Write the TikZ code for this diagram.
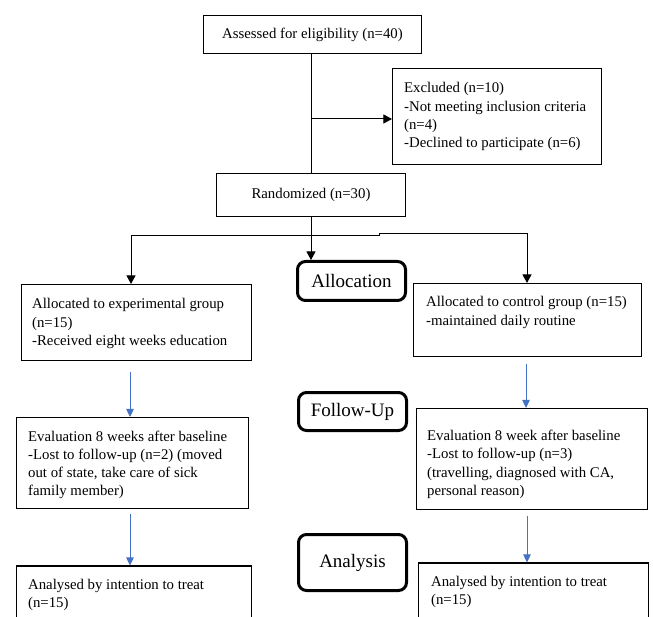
\documentclass[tikz,border=0pt]{standalone}
\usepackage{fontspec}
\setmainfont{Liberation Serif}
\usetikzlibrary{arrows.meta}
\definecolor{arrowblue}{RGB}{68,114,196}
\begin{document}
\begin{tikzpicture}[x=1pt,y=-1pt,
  box/.style={draw, line width=1.1pt, inner sep=0pt},
  txt/.style={inner sep=0pt, anchor=north west, align=left, font=\fontsize{14.8}{18.3}\selectfont},
  ctxt/.style={font=\fontsize{14.8}{18.3}\selectfont},
  stage/.style={draw, line width=3pt, rounded corners=8pt, inner sep=0pt, font=\fontsize{19}{23}\selectfont},
  blk/.style={line width=1pt, -{Triangle[length=8.5pt,width=9pt]}},
  blu/.style={draw=arrowblue, line width=0.9pt, -{Triangle[length=8pt,width=7.5pt]}, arrowblue}
]
\useasboundingbox (0,0) rectangle (653,617);
\clip (0,0) rectangle (653,617);
\fill[white] (0,0) rectangle (653,617);

% boxes
\node[box, ctxt, minimum width=218pt, minimum height=38pt] (assess) at (312.5,34.5) {Assessed for eligibility (n=40)};
\node[box, minimum width=209pt, minimum height=96pt] (excl) at (497,116.5) {};
\node[box, ctxt, minimum width=189pt, minimum height=43pt] (rand) at (311,195) {Randomized (n=30)};
\node[stage, minimum width=108pt, minimum height=39pt] (alloc) at (351.5,281) {Allocation};
\node[box, minimum width=230pt, minimum height=76pt] (la) at (136.5,322.5) {};
\node[box, minimum width=228pt, minimum height=73pt] (ra) at (527.5,320) {};
\node[stage, minimum width=108pt, minimum height=38pt] (fu) at (352.5,411.5) {Follow-Up};
\node[box, minimum width=232pt, minimum height=91pt] (le) at (132.5,463) {};
\node[box, minimum width=231pt, minimum height=101pt] (re) at (532,459) {};
\node[stage, minimum width=108pt, minimum height=56pt] (an) at (352.5,562.5) {Analysis};
\node[box, minimum width=235pt, minimum height=70pt] (lb) at (134,601) {};
\node[box, minimum width=230pt, minimum height=70pt] (rb) at (533.5,598) {};

% texts
\node[txt] (exclt) at ([xshift=12pt,yshift=-14.5pt]excl.north west) {Excluded (n=10)\\-Not meeting inclusion criteria\\(n=4)\\-Declined to participate (n=6)};
\node[txt] (lat) at ([xshift=11pt,yshift=-14.5pt]la.north west) {Allocated to experimental group\\(n=15)\\-Received eight weeks education};
\node[txt] (rat) at ([xshift=13pt,yshift=-13.5pt]ra.north west) {Allocated to control group (n=15)\\-maintained daily routine};
\node[txt] (let) at ([xshift=12pt,yshift=-13.5pt]le.north west) {Evaluation 8 weeks after baseline\\-Lost to follow-up (n=2) (moved\\out of state, take care of sick\\family member)};
\node[txt] (ret) at ([xshift=11pt,yshift=-22pt]re.north west) {Evaluation 8 week after baseline\\-Lost to follow-up (n=3)\\(travelling, diagnosed with CA,\\personal reason)};
\node[txt] (lbt) at ([xshift=12pt,yshift=-13.5pt]lb.north west) {Analysed by intention to treat\\(n=15)};
\node[txt] (rbt) at ([xshift=13pt,yshift=-13.5pt]rb.north west) {Analysed by intention to treat\\(n=15)};

% black connectors
\draw[line width=1pt] (assess.south -| rand.north) -- (rand.north);
\coordinate (exbr) at (311,119);
\draw[blk] (exbr) -- (excl.west |- exbr);
\draw[blk] (rand.south) -- (rand.south |- alloc.north);
\coordinate (bl) at (131,236);
\coordinate (bm) at (379,236);
\coordinate (bm2) at (379,234);
\coordinate (br) at (527,234);
\draw[blk] (bm) -- (bl) -- (bl |- la.north);
\draw[blk] (bm) -- (bm2) -- (br) -- (br |- ra.north);

% blue connectors
\coordinate (b1s) at (130,372);
\draw[blu] (b1s) -- (b1s |- le.north);
\coordinate (b2s) at (526,364);
\draw[blu] (b2s) -- (b2s |- re.north);
\coordinate (b3s) at (130,514);
\draw[blu] (b3s) -- (b3s |- lb.north);
\coordinate (b4s) at (527,516);
\draw[blu] (b4s) -- (b4s |- rb.north);
\end{tikzpicture}
\end{document}
